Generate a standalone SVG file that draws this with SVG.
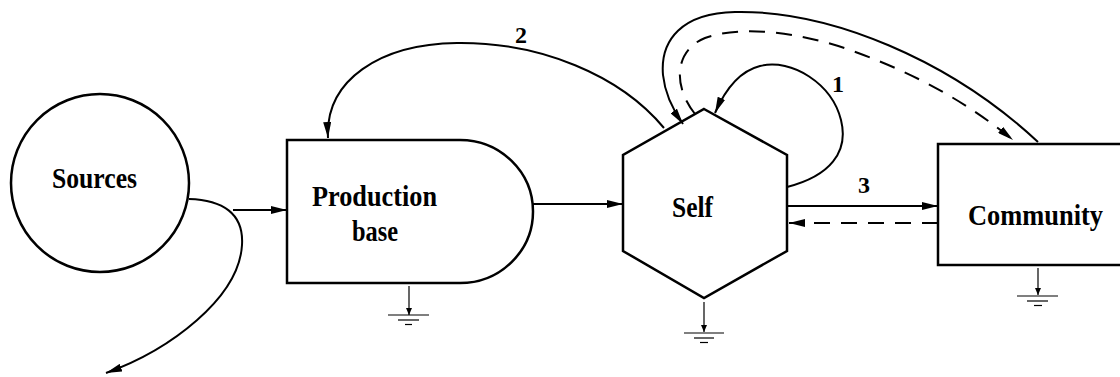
<svg xmlns="http://www.w3.org/2000/svg" width="1120" height="377" viewBox="0 0 1120 377">
<style>
.node{fill:#fff;stroke:#000;stroke-width:2.5}
.lbl{font-family:'Liberation Serif','Times New Roman',serif;font-weight:700;font-size:29px;fill:#000;text-anchor:middle}
.num{font-family:'Liberation Serif','Times New Roman',serif;font-weight:700;font-size:24px;fill:#000;text-anchor:middle}
.c{fill:none;stroke:#000;stroke-width:2}
.d{fill:none;stroke:#000;stroke-width:2;stroke-dasharray:16,11}
.g{fill:none;stroke:#000;stroke-width:1.2}
</style>
<defs>
<marker id="ah" markerUnits="userSpaceOnUse" markerWidth="17" markerHeight="8" refX="16" refY="4" orient="auto">
<path d="M0,0 L16,4 L0,8 z" fill="#000"/>
</marker>
<marker id="gh" markerUnits="userSpaceOnUse" markerWidth="8" markerHeight="6" refX="7" refY="3" orient="auto">
<path d="M0,0 L7,3 L0,6 z" fill="#000"/>
</marker>
</defs>
<g id="sources">
<circle class="node" cx="100" cy="183" r="89" stroke-width="3"/>
<text class="lbl" x="94.5" y="188" textLength="85" lengthAdjust="spacingAndGlyphs">Sources</text>
</g>
<g id="production-base">
<path class="node" d="M287,140 L460,140 A73,71.5 0 0 1 460,283 L287,283 Z"/>
<text class="lbl" x="374.5" y="206" textLength="125" lengthAdjust="spacingAndGlyphs">Production</text>
<text class="lbl" x="375" y="241" textLength="46" lengthAdjust="spacingAndGlyphs">base</text>
<g id="ground-production">
<line class="g" x1="409" y1="286" x2="409" y2="315" marker-end="url(#gh)"/>
<line class="g" x1="388" y1="315" x2="429" y2="315"/>
<line class="g" x1="398" y1="320" x2="419" y2="320"/>
<line class="g" x1="405" y1="324.5" x2="412" y2="324.5"/>
</g>
</g>
<g id="self">
<polygon class="node" points="704,109 787,155 787,251 704,298 623,251 623,155"/>
<text class="lbl" x="692.5" y="217" textLength="41" lengthAdjust="spacingAndGlyphs">Self</text>
<g id="ground-self">
<line class="g" x1="704" y1="302" x2="704" y2="332" marker-end="url(#gh)"/>
<line class="g" x1="684" y1="333" x2="724" y2="333"/>
<line class="g" x1="694" y1="338" x2="714" y2="338"/>
<line class="g" x1="700" y1="342.5" x2="708" y2="342.5"/>
</g>
</g>
<g id="community">
<rect class="node" x="938" y="144" width="190" height="121"/>
<text class="lbl" x="1035.5" y="225" textLength="135" lengthAdjust="spacingAndGlyphs">Community</text>
<g id="ground-community">
<line class="g" x1="1038" y1="268" x2="1038" y2="295" marker-end="url(#gh)"/>
<line class="g" x1="1017" y1="296" x2="1058" y2="296"/>
<line class="g" x1="1027" y1="301" x2="1048" y2="301"/>
<line class="g" x1="1034" y1="305.5" x2="1042" y2="305.5"/>
</g>
</g>
<g id="connectors">
<path class="c" d="M189,199 C222,200 244,213 242,245 C239,298 170,350 106,373" marker-end="url(#ah)"/>
<line class="c" x1="233" y1="210" x2="287" y2="210" marker-end="url(#ah)"/>
<line class="c" x1="533" y1="204" x2="623" y2="204" marker-end="url(#ah)"/>
<path class="c" d="M664,128 C620,75 540,42 457,43 C380,44 325,80 328,138" marker-end="url(#ah)"/>
<path class="c" d="M787,187 C830,176 849,152 841,120 C832,84 792,58 760,66 C740,71 725,90 715,113" marker-end="url(#ah)"/>
<path class="c" d="M1038,142 C950,60 830,10 735,12 C682,13 660,40 663,75 C665,95 673,110 683,124" marker-end="url(#ah)"/>
<path class="d" d="M695,114 C672,85 675,50 705,38 C740,25 800,32 850,50 C920,75 970,105 1013,140" marker-end="url(#ah)"/>
<line class="c" x1="787" y1="206" x2="938" y2="206" marker-end="url(#ah)"/>
<line class="d" x1="938" y1="223" x2="789" y2="223" marker-end="url(#ah)"/>
<text class="num" x="521" y="43">2</text>
<text class="num" x="838" y="92">1</text>
<text class="num" x="864" y="193">3</text>
</g>
</svg>
